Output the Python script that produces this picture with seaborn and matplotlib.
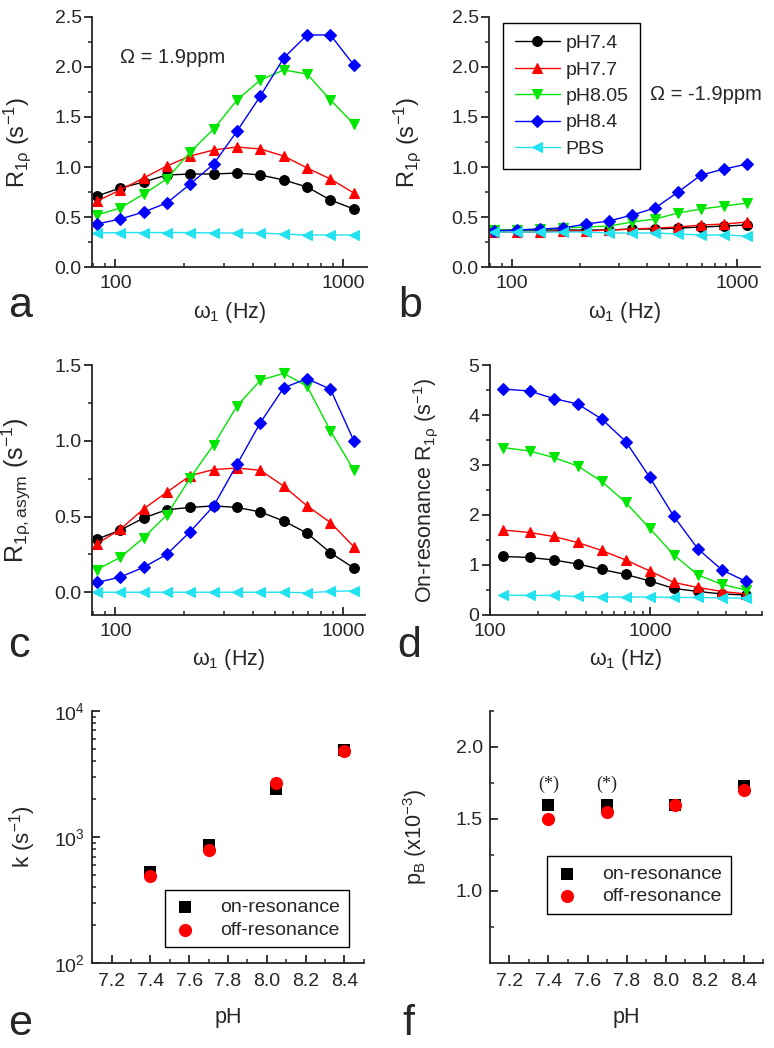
import matplotlib
matplotlib.use("Agg")
import matplotlib.pyplot as plt
import matplotlib.ticker as mticker
import seaborn as sns

# Spin-lock frequency sweeps (Hz)
freq_abc = [83, 105, 133, 168, 213, 270, 342, 433, 548, 694, 879, 1113]
freq_d = [120, 177, 250, 354, 500, 707, 1000, 1414, 2000, 2828, 4000]

# Panel a: R1rho at +1.9 ppm
a_ph74 = [0.71, 0.79, 0.85, 0.92, 0.93, 0.93, 0.94, 0.92, 0.87, 0.80, 0.67, 0.58]
a_ph77 = [0.66, 0.77, 0.89, 1.01, 1.11, 1.17, 1.20, 1.18, 1.11, 0.99, 0.88, 0.74]
a_ph805 = [0.52, 0.59, 0.73, 0.88, 1.15, 1.38, 1.67, 1.87, 1.97, 1.93, 1.67, 1.43]
a_ph84 = [0.43, 0.48, 0.55, 0.64, 0.83, 1.03, 1.36, 1.71, 2.09, 2.32, 2.32, 2.02]
a_pbs = [0.34, 0.345, 0.345, 0.345, 0.345, 0.34, 0.34, 0.34, 0.33, 0.32, 0.32, 0.32]

# Panel b: R1rho at -1.9 ppm
b_ph74 = [0.37, 0.37, 0.37, 0.37, 0.37, 0.37, 0.38, 0.38, 0.39, 0.40, 0.41, 0.42]
b_ph77 = [0.35, 0.35, 0.35, 0.36, 0.36, 0.37, 0.38, 0.39, 0.40, 0.42, 0.43, 0.45]
b_ph805 = [0.37, 0.37, 0.38, 0.39, 0.40, 0.41, 0.45, 0.48, 0.54, 0.58, 0.61, 0.64]
b_ph84 = [0.36, 0.37, 0.38, 0.39, 0.43, 0.46, 0.52, 0.59, 0.75, 0.92, 0.98, 1.03]
b_pbs = [0.35, 0.35, 0.35, 0.35, 0.35, 0.34, 0.34, 0.34, 0.33, 0.32, 0.32, 0.31]

# Panel c: asymmetry
c_ph74 = [0.35, 0.41, 0.49, 0.545, 0.56, 0.57, 0.56, 0.53, 0.47, 0.39, 0.26, 0.16]
c_ph77 = [0.32, 0.415, 0.55, 0.66, 0.77, 0.81, 0.82, 0.805, 0.70, 0.57, 0.46, 0.30]
c_ph805 = [0.15, 0.23, 0.36, 0.51, 0.755, 0.975, 1.23, 1.40, 1.445, 1.36, 1.065, 0.805]
c_ph84 = [0.065, 0.10, 0.165, 0.25, 0.40, 0.57, 0.845, 1.12, 1.35, 1.41, 1.34, 1.00]
c_pbs = [0.0, 0.0, 0.0, 0.0, 0.0, 0.0, 0.0, 0.0, 0.0, -0.003, 0.005, 0.01]

# Panel d: on-resonance R1rho
d_ph74 = [1.17, 1.15, 1.10, 1.02, 0.91, 0.81, 0.68, 0.53, 0.47, 0.42, 0.40]
d_ph77 = [1.70, 1.65, 1.57, 1.45, 1.29, 1.10, 0.88, 0.65, 0.55, 0.47, 0.42]
d_ph805 = [3.35, 3.28, 3.15, 2.98, 2.67, 2.25, 1.73, 1.20, 0.80, 0.61, 0.50]
d_ph84 = [4.52, 4.48, 4.33, 4.22, 3.92, 3.47, 2.75, 1.97, 1.32, 0.90, 0.67]
d_pbs = [0.40, 0.39, 0.39, 0.37, 0.36, 0.36, 0.36, 0.35, 0.35, 0.34, 0.34]

series_names = ["pH7.4", "pH7.7", "pH8.05", "pH8.4", "PBS"]
series_colors = ["black", "#ff0000", "#00e600", "#0000ff", "#22e2f0"]
series_markers = ["o", "^", "v", "D", "<"]
series_sizes = [7, 7.5, 7.5, 6, 7.5]

# Panels e, f: fitted parameters vs pH
ph_values = [7.4, 7.7, 8.05, 8.4]
k_on = [525, 870, 2400, 4930]
k_off = [488, 783, 2680, 4780]
pb_on = [1.60, 1.60, 1.60, 1.73]
pb_off = [1.50, 1.55, 1.60, 1.70]

sns.set_style("ticks")
plt.rcParams["font.family"] = ["Liberation Sans", "DejaVu Sans"]
plt.rcParams["mathtext.fontset"] = "custom"
plt.rcParams["mathtext.rm"] = "Liberation Sans"
plt.rcParams["mathtext.it"] = "Liberation Sans:italic"
plt.rcParams["mathtext.bf"] = "Liberation Sans:bold"
plt.rcParams["axes.linewidth"] = 1.3
plt.rcParams["xtick.major.width"] = 1.3
plt.rcParams["ytick.major.width"] = 1.3
plt.rcParams["xtick.minor.width"] = 1.1
plt.rcParams["ytick.minor.width"] = 1.1
plt.rcParams["xtick.major.size"] = 5.5
plt.rcParams["ytick.major.size"] = 5.5
plt.rcParams["xtick.minor.size"] = 3
plt.rcParams["ytick.minor.size"] = 3
plt.rcParams["xtick.labelsize"] = 14
plt.rcParams["ytick.labelsize"] = 14
plt.rcParams["axes.labelsize"] = 15.5

fig = plt.figure(figsize=(7.74, 10.48), dpi=100)

ax_a = fig.add_axes([0.119, 0.7452, 0.355, 0.2386])
ax_b = fig.add_axes([0.632, 0.7452, 0.350, 0.2386])
ax_c = fig.add_axes([0.119, 0.4132, 0.353, 0.2385])
ax_d = fig.add_axes([0.633, 0.4132, 0.351, 0.2385])
ax_e = fig.add_axes([0.119, 0.0811, 0.351, 0.2405])
ax_f = fig.add_axes([0.633, 0.0811, 0.353, 0.2405])


def draw_sweep(ax, freq, values):
    for vals, name, col, mk, ms in zip(values, series_names, series_colors,
                                       series_markers, series_sizes):
        sns.lineplot(x=freq, y=vals, ax=ax, color=col, marker=mk, markersize=ms,
                     markeredgecolor=col, markeredgewidth=0.8, linewidth=1.0,
                     label=name, estimator=None, sort=False)
    ax.get_legend().remove()


def style_sweep(ax, xlim, ylim, ymajor, yminor, xticks):
    ax.set_xscale("log")
    ax.set_xlim(*xlim)
    ax.set_ylim(*ylim)
    ax.xaxis.set_major_locator(mticker.FixedLocator(xticks))
    ax.xaxis.set_major_formatter(mticker.FixedFormatter([str(t) for t in xticks]))
    ax.xaxis.set_minor_locator(mticker.LogLocator(base=10, subs=range(2, 10)))
    ax.xaxis.set_minor_formatter(mticker.NullFormatter())
    ax.yaxis.set_major_locator(mticker.MultipleLocator(ymajor))
    ax.yaxis.set_minor_locator(mticker.MultipleLocator(yminor))
    ax.tick_params(axis="x", which="both", direction="in", pad=6)
    ax.tick_params(axis="y", which="both", direction="out", pad=2)
    ax.set_xlabel(r"$\mathrm{\omega}_\mathrm{1}$ (Hz)")
    sns.despine(ax=ax)


# Panel a
draw_sweep(ax_a, freq_abc, [a_ph74, a_ph77, a_ph805, a_ph84, a_pbs])
style_sweep(ax_a, (79, 1270), (0, 2.5), 0.5, 0.25, [100, 1000])
ax_a.set_ylabel(r"R$_{\mathrm{1\rho}}$ (s$^{\mathrm{-1}}$)", fontsize=17)
ax_a.text(0.102, 0.836, "Ω = 1.9ppm", transform=ax_a.transAxes,
          fontsize=14.5, va="center")

# Panel b
draw_sweep(ax_b, freq_abc, [b_ph74, b_ph77, b_ph805, b_ph84, b_pbs])
style_sweep(ax_b, (79, 1270), (0, 2.5), 0.5, 0.25, [100, 1000])
ax_b.set_ylabel(r"R$_{\mathrm{1\rho}}$ (s$^{\mathrm{-1}}$)", fontsize=17)
ax_b.text(0.594, 0.688, "Ω = -1.9ppm", transform=ax_b.transAxes,
          fontsize=14.5, va="center")
leg = ax_b.legend(loc="upper left", bbox_to_anchor=(0.052, 0.976),
                  borderaxespad=0, fontsize=14, frameon=True, fancybox=False,
                  edgecolor="black", framealpha=1, handlelength=2.3,
                  handletextpad=0.3, labelspacing=0.45, borderpad=0.6)
leg.get_frame().set_linewidth(1.0)

# Panel c
draw_sweep(ax_c, freq_abc, [c_ph74, c_ph77, c_ph805, c_ph84, c_pbs])
style_sweep(ax_c, (79, 1250), (-0.15, 1.5), 0.5, 0.25, [100, 1000])
ax_c.set_ylabel(r"R$_{\mathrm{1\rho,asym}}$ (s$^{\mathrm{-1}}$)", fontsize=18)

# Panel d
draw_sweep(ax_d, freq_d, [d_ph74, d_ph77, d_ph805, d_ph84, d_pbs])
style_sweep(ax_d, (100, 5000), (0, 5), 1, 0.5, [100, 1000])
ax_d.set_ylabel(r"On-resonance R$_{\mathrm{1\rho}}$ (s$^{\mathrm{-1}}$)")


# Panels e and f
def draw_params(ax, on_vals, off_vals):
    sns.scatterplot(x=ph_values, y=on_vals, ax=ax, marker="s", color="black",
                    s=70, edgecolor="black", linewidth=0, label="on-resonance",
                    zorder=3)
    sns.scatterplot(x=ph_values, y=off_vals, ax=ax, marker="o", color="#ff0000",
                    s=90, edgecolor="#ff0000", linewidth=0, label="off-resonance",
                    zorder=4)
    ax.set_xlim(7.1, 8.5)
    ax.xaxis.set_major_locator(mticker.MultipleLocator(0.2))
    ax.xaxis.set_minor_locator(mticker.MultipleLocator(0.1))
    ax.xaxis.set_major_formatter(mticker.FormatStrFormatter("%.1f"))
    ax.tick_params(axis="both", which="both", direction="in")
    ax.tick_params(axis="x", which="both", pad=7)
    ax.tick_params(axis="y", which="both", pad=5)
    ax.set_xlabel("pH")
    sns.despine(ax=ax)


draw_params(ax_e, k_on, k_off)
ax_e.set_yscale("log")
ax_e.set_ylim(100, 10000)
ax_e.set_ylabel(r"k (s$^{\mathrm{-1}}$)", fontsize=16)
leg_e = ax_e.legend(loc="upper left", bbox_to_anchor=(0.268, 0.290),
                    borderaxespad=0, fontsize=14, fancybox=False,
                    edgecolor="black", framealpha=1, handlelength=1.2,
                    handletextpad=1.2, labelspacing=0.25, borderpad=0.45)
leg_e.get_frame().set_linewidth(1.0)

draw_params(ax_f, pb_on, pb_off)
ax_f.set_ylim(0.5, 2.25)
ax_f.yaxis.set_major_locator(mticker.FixedLocator([1.0, 1.5, 2.0]))
ax_f.yaxis.set_major_formatter(mticker.FormatStrFormatter("%.1f"))
ax_f.yaxis.set_minor_locator(mticker.FixedLocator([0.75, 1.25, 1.75, 2.25]))
ax_f.set_ylabel(r"p$_{\mathrm{B}}$ (x10$^{\mathrm{-3}}$)")
for ph in ph_values[:2]:
    ax_f.text(ph, 1.74, "(*)", ha="center", va="center", fontsize=13,
              family=["Liberation Serif", "DejaVu Serif"])
leg_f = ax_f.legend(loc="upper left", bbox_to_anchor=(0.209, 0.423),
                    borderaxespad=0, fontsize=14, fancybox=False,
                    edgecolor="black", framealpha=1, handlelength=1.2,
                    handletextpad=1.2, labelspacing=0.25, borderpad=0.45)
leg_f.get_frame().set_linewidth(1.0)

# Y label placement
ax_a.yaxis.set_label_coords(-0.215, 0.5)
ax_b.yaxis.set_label_coords(-0.244, 0.5)
ax_c.yaxis.set_label_coords(-0.216, 0.5)
ax_d.yaxis.set_label_coords(-0.184, 0.5)
ax_e.yaxis.set_label_coords(-0.20, 0.5)
ax_f.yaxis.set_label_coords(-0.224, 0.5)
for ax in [ax_a, ax_b, ax_c, ax_d]:
    ax.xaxis.set_label_coords(0.5, -0.13)
for ax in [ax_e, ax_f]:
    ax.xaxis.set_label_coords(0.5, -0.175)

# Panel letters
for letter, x, y in [("a", 0.010, 0.6975), ("b", 0.514, 0.6975),
                     ("c", 0.010, 0.3731), ("d", 0.513, 0.3731),
                     ("e", 0.010, 0.0124), ("f", 0.520, 0.0124)]:
    fig.text(x, y, letter, fontsize=31, va="baseline", ha="left")

fig.savefig("out.png", dpi=100)
